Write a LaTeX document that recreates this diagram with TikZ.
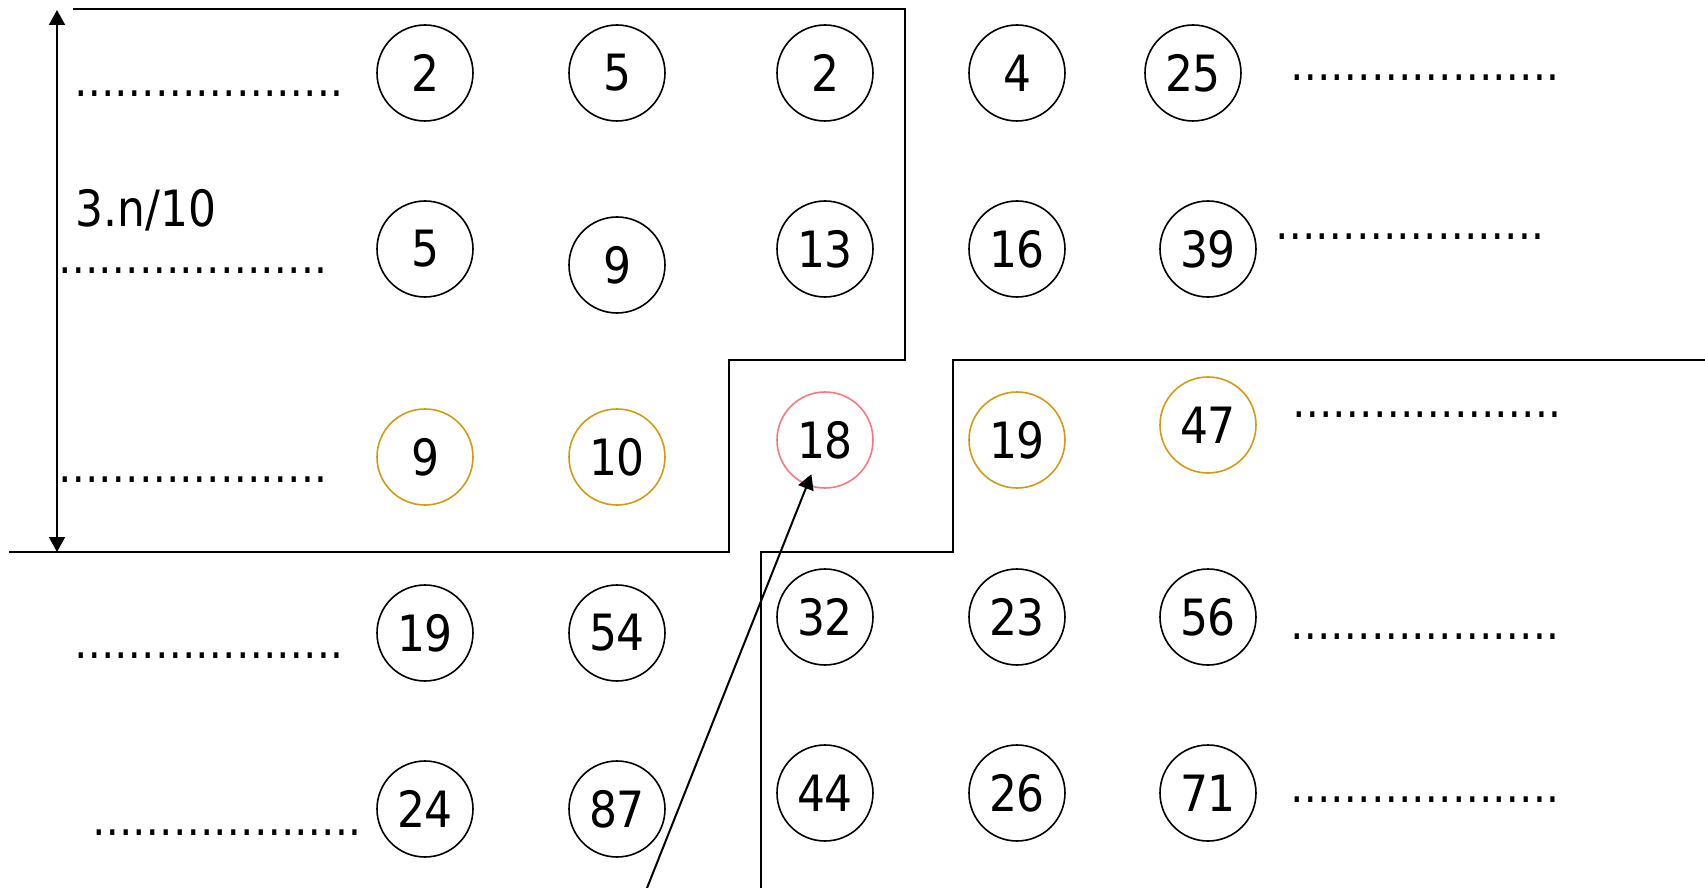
\documentclass[tikz,border=0pt]{standalone}
\usepackage{fontspec}
\setmainfont{DejaVu Sans}[FakeStretch=0.88]
\usetikzlibrary{arrows.meta}
\definecolor{gold}{RGB}{210,155,20}
\definecolor{pinkred}{RGB}{250,120,130}
\begin{document}
\begin{tikzpicture}[x=0.5pt,y=-0.5pt,
  num/.style={circle,draw,line width=0.8pt,minimum size=48pt,inner sep=0pt,font=\fontsize{25}{25}\selectfont},
  goldnum/.style={num,draw=gold},
  rednum/.style={num,draw=pinkred},
  dotrow/.style={anchor=base west,inner sep=0pt,font=\fontsize{23}{23}\selectfont},
  lbl/.style={anchor=base west,inner sep=0pt,font=\fontsize{25}{25}\selectfont},
  wall/.style={line width=1pt},
  tip/.style={line width=1pt,{Triangle[length=7.5pt,width=8pt]}-{Triangle[length=7.5pt,width=8pt]}},
  ptr/.style={line width=1pt,-{Triangle[length=7.5pt,width=8pt]}}]
\useasboundingbox (0,0) rectangle (1705,888);
% walls
\draw[wall] (73,9) -- (905,9) -- (905,360) -- (729,360) -- (729,552) -- (9,552);
\draw[wall] (1705,360) -- (953,360) -- (953,552) -- (761,552) -- (761,888);
% circles
\node[num] (c11) at (425,73) {2};
\node[num] (c12) at (617,73) {5};
\node[num] (c13) at (825,73) {2};
\node[num] (c14) at (1017,73) {4};
\node[num] (c15) at (1193,73) {25};
\node[num] (c21) at (425,249) {5};
\node[num] (c22) at (617,265) {9};
\node[num] (c23) at (825,249) {13};
\node[num] (c24) at (1017,249) {16};
\node[num] (c25) at (1208,249) {39};
\node[goldnum] (c31) at (425,457) {9};
\node[goldnum] (c32) at (617,457) {10};
\node[rednum] (c33) at (825,440) {18};
\node[goldnum] (c34) at (1017,440) {19};
\node[goldnum] (c35) at (1208,425) {47};
\node[num] (c41) at (425,633) {19};
\node[num] (c42) at (617,633) {54};
\node[num] (c43) at (825,617) {32};
\node[num] (c44) at (1017,617) {23};
\node[num] (c45) at (1208,617) {56};
\node[num] (c51) at (425,809) {24};
\node[num] (c52) at (617,809) {87};
\node[num] (c53) at (825,793) {44};
\node[num] (c54) at (1017,793) {26};
\node[num] (c55) at (1208,793) {71};
% dotted rows
\node[dotrow] (d1) at (74,97) {………………..};
\node[dotrow] (d2) at (58,273) {………………..};
\node[dotrow] (d3) at (58,482) {………………..};
\node[dotrow] (d4) at (74,658) {………………..};
\node[dotrow] (d5) at (92,835) {………………..};
\node[dotrow] (e1) at (1290,81) {………………..};
\node[dotrow] (e2) at (1275,240) {………………..};
\node[dotrow] (e3) at (1292,417) {………………..};
\node[dotrow] (e4) at (1290,639) {………………..};
\node[dotrow] (e5) at (1290,802) {………………..};
% label
\node[lbl] (h) at (75,227) {3.n/10};
% arrows
\coordinate (vt) at (57,10);
\coordinate (vb) at (57,552);
\draw[tip] (vt) -- (vb);
\coordinate (as) at (647,888);
\draw[ptr,shorten >=-6pt] (as) -- (c33);
\end{tikzpicture}
\end{document}
